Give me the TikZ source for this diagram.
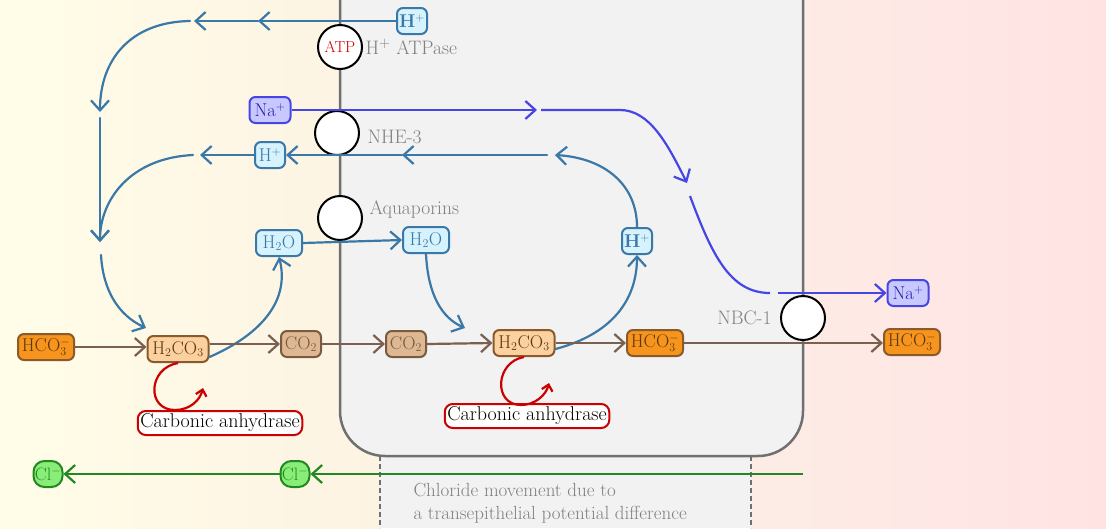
\documentclass[tikz,border=0pt]{standalone}
\usetikzlibrary{arrows.meta}
\definecolor{bgYa}{HTML}{FFFDE8}
\definecolor{bgYb}{HTML}{FDF3E3}
\definecolor{bgPa}{HTML}{FDECE6}
\definecolor{bgPb}{HTML}{FFE3E3}
\definecolor{cellfill}{HTML}{F2F2F2}
\definecolor{cellline}{HTML}{707070}
\definecolor{steel}{HTML}{3A78A8}
\definecolor{lightblue}{HTML}{D6F3FD}
\definecolor{nablue}{HTML}{4646E6}
\definecolor{nafill}{HTML}{C8C8FF}
\definecolor{natext}{HTML}{2020B0}
\definecolor{brownl}{HTML}{7A6050}
\definecolor{orangef}{HTML}{F7941D}
\definecolor{orangeb}{HTML}{8B5A2B}
\definecolor{peachf}{HTML}{FDD0A0}
\definecolor{co2f}{HTML}{DDB892}
\definecolor{co2b}{HTML}{7A5A40}
\definecolor{darkbrown}{HTML}{5A3A10}
\definecolor{redl}{HTML}{CC0000}
\definecolor{greenl}{HTML}{228822}
\definecolor{greenf}{HTML}{88EE77}
\definecolor{graytext}{HTML}{808080}
\begin{document}
\begin{tikzpicture}[x=1pt,y=-1pt,
  arr/.style={-{Straight Barb[length=10pt,width=18pt]}},
  arrs/.style={-{Straight Barb[length=6pt,width=11pt]}},
  bl/.style={draw=steel,line width=2.2pt,line cap=round},
  nal/.style={draw=nablue,line width=2.2pt},
  brl/.style={draw=brownl,line width=2.2pt},
  grl/.style={draw=greenl,line width=2.2pt},
  rdl/.style={draw=redl,line width=2.2pt},
  ion/.style={rounded corners=6pt,line width=2pt,inner sep=1.5pt,minimum height=26pt,font=\fontsize{18.5}{21}\selectfont},
  hion/.style={ion,draw=steel,fill=lightblue,text=steel,minimum width=30pt},
  water/.style={ion,draw=steel,fill=lightblue,text=steel,minimum width=46pt},
  naion/.style={ion,draw=nablue,fill=nafill,text=natext,minimum width=41pt},
  hco/.style={ion,draw=orangeb,fill=orangef,text=darkbrown,minimum width=56pt},
  hhco/.style={ion,draw=orangeb,fill=peachf,text=darkbrown,minimum width=61pt},
  cot/.style={ion,draw=co2b,fill=co2f,text=co2b,minimum width=40pt},
  clion/.style={ion,rounded corners=11pt,draw=greenl,fill=greenf,text=greenl,minimum width=29pt,minimum height=26pt,inner sep=0.5pt,font=\fontsize{18}{20}\selectfont},
  pump/.style={circle,draw=black,fill=white,line width=2pt,minimum size=44pt,inner sep=0pt},
  lbl/.style={text=graytext,font=\fontsize{19.5}{21}\selectfont},
  enz/.style={rounded corners=8pt,draw=redl,fill=white,line width=2pt,inner sep=2.5pt,minimum height=24pt,font=\fontsize{20}{22}\selectfont}]
\useasboundingbox (0,0) rectangle (1106,528);
\clip (0,0) rectangle (1106,528);
% backgrounds
\shade[left color=bgYa,right color=bgYb] (0,0) rectangle (380,528);
\fill[cellfill] (380,0) rectangle (751,528);
\shade[left color=bgPa,right color=bgPb] (751,0) rectangle (1106,528);
% cell
\draw[cellline,fill=cellfill,line width=2.5pt,rounded corners=45pt] (340,-80) rectangle (803,456);
\draw[cellline,line width=2pt,dash pattern=on 5pt off 3pt] (380,456) -- (380,528);
\draw[cellline,line width=2pt,dash pattern=on 5pt off 3pt] (751,456) -- (751,528);

% nodes
\node[hion,font=\fontsize{18.5}{21}\selectfont\bfseries] (Htop) at (412,21) {H$^{\mathbf{+}}$};
\node[pump] (atp) at (340,47) {\fontsize{16}{18}\selectfont\color{redl}ATP};
\node[lbl,anchor=west] (atpl) at (362,47) {H$^+$ ATPase};
\node[naion] (Na1) at (270,110) {Na$^+$};
\node[pump] (nhe) at (337,133) {};
\node[lbl,anchor=west] (nhel) at (364,137) {NHE-3};
\node[hion] (Hleft) at (270,155) {H$^+$};
\node[pump] (aqp) at (340,218) {};
\node[lbl,anchor=west] (aqpl) at (366,210) {Aquaporins};
\node[water] (W1) at (279,243) {H$_2$O};
\node[water] (W2) at (426,240) {H$_2$O};
\node[hion,font=\fontsize{18.5}{21}\selectfont\bfseries] (Hright) at (637,241) {H$^{\mathbf{+}}$};
\node[naion] (Na2) at (908,293) {Na$^+$};
\node[pump] (nbc) at (803,318) {};
\node[lbl,anchor=east] (nbcl) at (775,318) {NBC-1};
\node[hco] (B1) at (46,347) {HCO$_3^-$};
\node[hhco] (C1) at (178,349) {H$_2$CO$_3$};
\node[cot] (D1) at (301,344) {CO$_2$};
\node[cot] (D2) at (406,344) {CO$_2$};
\node[hhco] (C2) at (524,343) {H$_2$CO$_3$};
\node[hco] (B2) at (655,343) {HCO$_3^-$};
\node[hco] (B3) at (912,342) {HCO$_3^-$};
\node[enz] (E1) at (220,423) {Carbonic anhydrase};
\node[enz] (E2) at (527,416) {Carbonic anhydrase};
\node[clion] (Cl1) at (48,474) {Cl$^-$};
\node[clion] (Cl2) at (295,474) {Cl$^-$};
\node[lbl,anchor=north west,align=left,font=\fontsize{19}{23}\selectfont] (chl) at (410,480) {Chloride movement due to\\a transepithelial potential difference};

% waypoints
\coordinate (t1) at (258,21);
\coordinate (t2) at (194,21);
\coordinate (t3) at (190,21);
\coordinate (v1) at (100,112);
\coordinate (v2) at (100,118);
\coordinate (v3) at (100,242);
\coordinate (v4) at (101,255);
\coordinate (v5) at (146,328);
\coordinate (h1) at (555,155);
\coordinate (h2) at (547,155);
\coordinate (h3) at (402,155);
\coordinate (h4) at (200,155);
\coordinate (h5) at (193,155);
\coordinate (n1) at (537,110);
\coordinate (n2) at (541,110);
\coordinate (n3) at (620,110);
\coordinate (n4) at (687,183);
\coordinate (n5) at (690,196);
\coordinate (n6) at (770,293);
\coordinate (n7) at (778,293);
\coordinate (w1) at (465,328);
\coordinate (g0) at (803,474);

% H+ ATPase route
\draw[bl,arr] (Htop.west) -- (t1);
\draw[bl,arr] (t1) -- (t2);
\draw[bl,arr] (t3) .. controls (130,22) and (100,60) .. (v1);
\draw[bl,arr] (v2) -- (v3);
\draw[bl,arr] (v4) .. controls (103,290) and (118,315) .. (v5);
% NHE-3 H+ route
\draw[bl,arr] (Hright.north) .. controls (637,185) and (605,158) .. (h1);
\draw[bl,arr] (h2) -- (h3);
\draw[bl,arr] (h3) -- (Hleft.east);
\draw[bl,arr] (Hleft.west) -- (h4);
\draw[bl,arr] (h5) .. controls (130,158) and (100,200) .. (v3);
% water
\draw[bl,arr] (W1.east) -- (W2.west);
\draw[bl,arr] ([yshift=-8pt]C1.east) .. controls (262,334) and (290,300) .. (W1.south);
\draw[bl,arr] (W2.south) .. controls (428,295) and (442,318) .. (w1);
\draw[bl,arr] ([yshift=-6pt]C2.east) .. controls (612,334) and (637,300) .. (Hright.south);
% sodium
\draw[nal,arr] (Na1.east) -- (n1);
\draw[nal,arr] (n2) -- (n3) .. controls (650,110) and (668,145) .. (n4);
\draw[nal] (n5) .. controls (712,255) and (730,293) .. (n6);
\draw[nal,arr] (n7) -- (Na2.west);
% bicarbonate row
\draw[brl,arr] (B1.east) -- (B1.east -| C1.west);
\draw[brl,arr] (C1.east |- D1.west) -- (D1.west);
\draw[brl,arr] (D1.east) -- (D2.west);
\draw[brl,arr] (D2.east) -- (C2.west);
\draw[brl,arr] (C2.east) -- (B2.west);
\draw[brl,arr] (B2.east) -- (B2.east -| B3.west);
% carbonic anhydrase curls
\coordinate (r1) at (203,388);
\coordinate (r2) at (549,383);
\draw[rdl,arrs] (C1.south) .. controls (148,368) and (146,410) .. (175,410) .. controls (190,410) and (200,400) .. (r1);
\draw[rdl,arrs] (C2.south) .. controls (495,362) and (493,405) .. (521,405) .. controls (535,405) and (546,395) .. (r2);
% chloride
\draw[grl,arr] (g0) -- (Cl2.east);
\draw[grl,arr] (Cl2.west) -- (Cl1.east);
\end{tikzpicture}
\end{document}
